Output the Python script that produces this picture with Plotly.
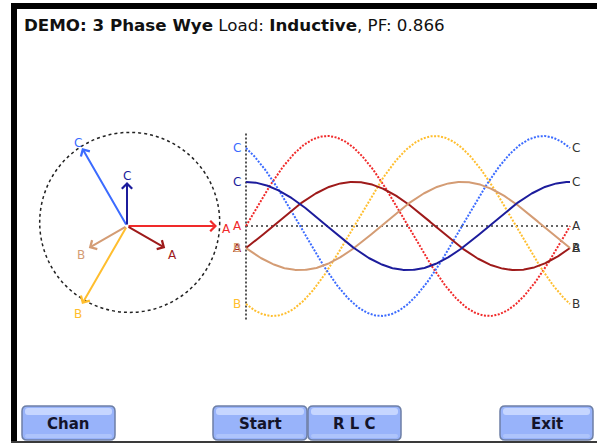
import numpy as np
import plotly.graph_objects as go

W, H = 601, 446

# ---- data ----
phases = ["A", "B", "C"]
volt_mag = [100, 100, 100]          # % of full scale
volt_ang = [0, -120, 120]           # degrees
curr_mag = [49, 49, 49]
curr_ang = [-30, -150, 90]          # lagging 30 deg (PF 0.866)
volt_colors = ["#f02a2a", "#ffbe2e", "#3b6bff"]
curr_colors = ["#9e1a1a", "#d49c74", "#1c1c9c"]
title_html = "<b>DEMO: 3 Phase Wye</b> Load: <b>Inductive</b>, PF: 0.866"
buttons = ["Chan", "Start", "R L C", "Exit"]

# ---- layout helpers (pixel geometry) ----
SCALE = 0.9  # px per unit
def fy(py):
    return 1 - py / H

rng = [-110 / SCALE, 110 / SCALE]
theta = np.linspace(0, 360, 361)

fig = go.Figure()

# waveforms
for m, a, c in zip(volt_mag, volt_ang, volt_colors):
    fig.add_trace(go.Scatter(x=theta, y=m * np.sin(np.radians(theta + a)), mode="lines",
                             line=dict(color=c, width=2, dash="2px,1.5px"),
                             xaxis="x2", yaxis="y2", hoverinfo="skip", showlegend=False))
for m, a, c in zip(curr_mag, curr_ang, curr_colors):
    fig.add_trace(go.Scatter(x=theta, y=m * np.sin(np.radians(theta + a)), mode="lines",
                             line=dict(color=c, width=2),
                             xaxis="x2", yaxis="y2", hoverinfo="skip", showlegend=False))

# dummy traces so that every axis exists
fig.add_trace(go.Scatter(x=[0], y=[0], mode="markers", marker=dict(opacity=0),
                         xaxis="x", yaxis="y", hoverinfo="skip", showlegend=False))
fig.add_trace(go.Scatter(x=[0], y=[0], mode="markers", marker=dict(opacity=0),
                         xaxis="x3", yaxis="y3", hoverinfo="skip", showlegend=False))

ann = []
shapes = []
lblfont = dict(family="DejaVu Sans", size=12)

# phasor arrows + labels
def add_phasor(ph, m, a, c):
    tx = m * np.cos(np.radians(a))
    ty = m * np.sin(np.radians(a))
    ann.append(dict(x=tx, y=ty, xref="x", yref="y", ax=0, ay=0, axref="x", ayref="y",
                    showarrow=True, arrowhead=4, arrowsize=1, arrowwidth=2,
                    arrowcolor=c, text="", standoff=0))
    lx = (m + 10) * np.cos(np.radians(a))
    ly = (m + 10) * np.sin(np.radians(a)) - 3
    ann.append(dict(x=lx, y=ly, xref="x", yref="y", text=ph, showarrow=False,
                    font=dict(lblfont, color=c), xanchor="center", yanchor="middle"))

for ph, m, a, c in zip(phases, volt_mag, volt_ang, volt_colors):
    add_phasor(ph, m, a, c)
for ph, m, a, c in zip(phases, curr_mag, curr_ang, curr_colors):
    add_phasor(ph, m, a, c)

# waveform end labels
for ph, m, a, c in list(zip(phases, curr_mag, curr_ang, curr_colors)) + \
        list(zip(phases, volt_mag, volt_ang, volt_colors)):
    y0 = m * np.sin(np.radians(a))
    ann.append(dict(x=-10, y=y0, xref="x2", yref="y2", text=ph, showarrow=False,
                    font=dict(lblfont, color=c), xanchor="center", yanchor="middle"))
    y1 = m * np.sin(np.radians(360 + a))
    ann.append(dict(x=367, y=y1, xref="x2", yref="y2", text=ph, showarrow=False,
                    font=dict(lblfont, color="#333333"), xanchor="center", yanchor="middle"))

# circle (dotted)
shapes.append(dict(type="circle", xref="x", yref="y", x0=-97, x1=103, y0=-96, y1=104,
                   line=dict(color="#222222", width=1.5, dash="dot"), layer="below"))
# waveform reference lines
shapes.append(dict(type="line", xref="x2", yref="y2", x0=0, x1=360, y0=0, y1=0,
                   line=dict(color="#666666", width=2, dash="2px,3px"), layer="below"))
shapes.append(dict(type="line", xref="x2", yref="y2", x0=0, x1=0, y0=-104, y1=104,
                   line=dict(color="#555555", width=2, dash="2px,2px"), layer="below"))

# frame
shapes.append(dict(type="rect", xref="x3", yref="y3", x0=11, x1=17, y0=3, y1=441,
                   fillcolor="black", line=dict(width=0)))
shapes.append(dict(type="rect", xref="x3", yref="y3", x0=11, x1=597, y0=3, y1=9,
                   fillcolor="black", line=dict(width=0)))
shapes.append(dict(type="rect", xref="x3", yref="y3", x0=11, x1=597, y0=441, y1=443,
                   fillcolor="#3a3a3a", line=dict(width=0)))

# buttons
btn_x = [(22, 115), (213, 307), (308, 401), (500, 593)]
by0, by1 = 406, 440

def rrect(x0, y0, x1, y1, r):
    return (f"M{x0+r},{y0} L{x1-r},{y0} Q{x1},{y0} {x1},{y0+r} L{x1},{y1-r} "
            f"Q{x1},{y1} {x1-r},{y1} L{x0+r},{y1} Q{x0},{y1} {x0},{y1-r} "
            f"L{x0},{y0+r} Q{x0},{y0} {x0+r},{y0} Z")

for label, (x0, x1) in zip(buttons, btn_x):
    shapes.append(dict(type="path", xref="x3", yref="y3", path=rrect(x0, by0, x1, by1, 5),
                       fillcolor="#98b3fa", line=dict(color="#6d7fa6", width=1.5)))
    shapes.append(dict(type="path", xref="x3", yref="y3",
                       path=rrect(x0 + 3, by0 + 2, x1 - 3, by0 + 9, 3),
                       fillcolor="#c6d6ff", line=dict(width=0)))
    shapes.append(dict(type="path", xref="x3", yref="y3",
                       path=rrect(x0 + 3, by1 - 6, x1 - 3, by1 - 2, 2),
                       fillcolor="#aec4fb", line=dict(width=0)))
    ann.append(dict(x=(x0 + x1) / 2, y=(by0 + by1) / 2 + 1, xref="x3", yref="y3",
                    text=f"<b>{label}</b>", showarrow=False,
                    font=dict(family="DejaVu Sans", size=15, color="#14142a"),
                    xanchor="center", yanchor="middle"))

# title
ann.append(dict(x=22, y=25, xref="x3", yref="y3", text=title_html, showarrow=False,
                font=dict(family="DejaVu Sans", size=16.7, color="#111111"),
                xanchor="left", yanchor="middle"))

hid = dict(visible=False, showgrid=False, zeroline=False, fixedrange=True)
fig.update_layout(
    width=W, height=H, margin=dict(l=0, r=0, t=0, b=0),
    paper_bgcolor="white", plot_bgcolor="rgba(0,0,0,0)",
    xaxis=dict(hid, domain=[17 / W, 237 / W], range=rng, anchor="y"),
    yaxis=dict(hid, domain=[fy(336), fy(116)], range=rng, anchor="x"),
    xaxis2=dict(hid, domain=[226 / W, 590 / W], range=[-20 / 0.9, 360 + 20 / 0.9], anchor="y2"),
    yaxis2=dict(hid, domain=[fy(336), fy(116)], range=rng, anchor="x2"),
    xaxis3=dict(hid, domain=[0, 1], range=[0, W], anchor="y3"),
    yaxis3=dict(hid, domain=[0, 1], range=[H, 0], anchor="x3"),
    shapes=shapes, annotations=ann, showlegend=False,
)

fig.write_html("out.html", config={"displayModeBar": False},
               post_script="document.body.style.margin='0';document.body.style.overflow='hidden';")
